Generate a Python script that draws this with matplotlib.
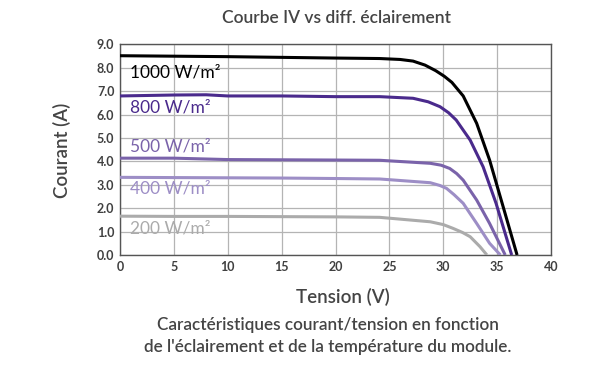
import matplotlib
matplotlib.use("Agg")
import matplotlib.pyplot as plt

plt.rcParams['font.family'] = ['Lato', 'DejaVu Sans']

# courbes IV (tension V, courant A)
v_1000 = [0, 5, 10, 15, 20, 24.1, 26, 27.2, 28.3, 29.3, 30.1, 30.8, 31.85, 33.1, 34.3, 35.56, 36.85]
i_1000 = [8.52, 8.5, 8.48, 8.45, 8.42, 8.4, 8.36, 8.29, 8.12, 7.88, 7.64, 7.38, 6.8, 5.63, 4.06, 2.06, 0.0]

v_800 = [0, 5, 8, 10, 15, 20, 24.1, 27.2, 28.6, 29.7, 30.5, 31.2, 32.5, 33.7, 34.9, 36.35]
i_800 = [6.8, 6.84, 6.85, 6.8, 6.8, 6.77, 6.77, 6.7, 6.55, 6.34, 6.08, 5.77, 4.91, 3.77, 2.21, 0.0]

v_500 = [0, 5, 10, 15, 20, 24.1, 28.8, 29.8, 30.6, 31.25, 31.85, 33.1, 34.3, 35.75]
i_500 = [4.14, 4.14, 4.08, 4.07, 4.06, 4.05, 3.92, 3.84, 3.7, 3.48, 3.2, 2.35, 1.35, 0.0]

v_400 = [0, 5, 10, 15, 20, 24.1, 28.8, 29.7, 30.3, 31.0, 31.85, 33.1, 34.3, 35.3]
i_400 = [3.32, 3.31, 3.3, 3.29, 3.27, 3.25, 3.09, 2.97, 2.85, 2.58, 2.21, 1.35, 0.5, 0.0]

v_200 = [0, 5, 10, 15, 20, 24.1, 28.8, 30.0, 30.9, 31.8, 32.5, 33.4, 34.05]
i_200 = [1.66, 1.65, 1.65, 1.64, 1.63, 1.61, 1.42, 1.3, 1.14, 0.96, 0.78, 0.36, 0.0]

labels = ['1000 W/m²', '800 W/m²', '500 W/m²', '400 W/m²', '200 W/m²']
label_y = [7.8, 6.3, 4.65, 2.85, 1.15]
colors = ['#000000', '#4a2a8c', '#7a63aa', '#9d8ec6', '#ababab']

xticks = [0, 5, 10, 15, 20, 25, 30, 35, 40]
yticks = [0, 1, 2, 3, 4, 5, 6, 7, 8, 9]

fig = plt.figure(figsize=(6.1, 3.78), dpi=100)
ax = fig.add_axes([0.1967, 0.3254, 0.7066, 0.5569])

curves = [(v_1000, i_1000), (v_800, i_800), (v_500, i_500), (v_400, i_400), (v_200, i_200)]
for (v, i), c in zip(curves, colors):
    ax.plot(v, i, color=c, lw=2.2, solid_capstyle='butt', solid_joinstyle='round', zorder=3)

for lab, y, c in zip(labels, label_y, colors):
    ax.text(0.9, y, lab, color=c, fontsize=12.5, va='center', ha='left', zorder=4)

ax.set_xlim(0, 40)
ax.set_ylim(0, 9)
ax.set_xticks(xticks)
ax.set_yticks(yticks)
ax.set_yticklabels(['%.1f' % t for t in yticks])
ax.grid(True, color='#b4b4b4', lw=0.9)
ax.set_axisbelow(True)
for s in ax.spines.values():
    s.set_color('#555555')
    s.set_linewidth(1.0)
ax.tick_params(length=0, pad=4, labelsize=9, labelcolor='#404040')
for t in ax.get_xticklabels() + ax.get_yticklabels():
    t.set_fontweight('bold')

fig.text(0.551, 0.952, 'Courbe IV vs diff. éclairement', ha='center', va='center',
         fontsize=12.5, fontweight='semibold', color='#444444')
fig.text(0.102, 0.603, 'Courant (A)', ha='center', va='center', rotation=90,
         fontsize=13.5, fontweight='semibold', color='#444444')
fig.text(0.562, 0.214, 'Tension (V)', ha='center', va='center',
         fontsize=13.5, fontweight='semibold', color='#444444')
fig.text(0.537, 0.139, 'Caractéristiques courant/tension en fonction', ha='center',
         va='center', fontsize=12.3, fontweight='semibold', color='#444444')
fig.text(0.537, 0.081, "de l'éclairement et de la température du module.", ha='center',
         va='center', fontsize=12.3, fontweight='semibold', color='#444444')

fig.savefig('out.png', dpi=100)
